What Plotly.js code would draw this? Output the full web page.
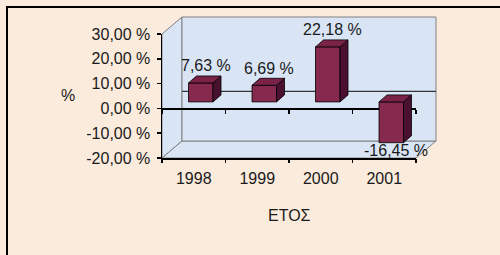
<!DOCTYPE html>
<html>
<head>
<meta charset="utf-8">
<script src="https://cdn.plot.ly/plotly-3.0.1.min.js"></script>
<style>
  html, body { margin: 0; padding: 0; background: #fbebdc; }
  #chart { width: 500px; height: 255px; }
  #frame { position: absolute; left: 6px; top: 6px; width: 494px; height: 249px;
           border-left: 2px solid #000; border-top: 2px solid #000; pointer-events: none; }
</style>
</head>
<body>
<div id="chart"></div>
<div id="frame"></div>
<script>
// ---- data ----
const years = ['1998', '1999', '2000', '2001'];
const values = [7.63, 6.69, 22.18, -16.45];
const yTicks = [-20, -10, 0, 10, 20, 30];
const xTitle = 'ΕΤΟΣ';
const yTitle = '%';

// ---- geometry (pixel layout of the fake 3D box) ----
const L = 162, R = 416, T = 34, B = 158, W = 500, H = 255;
const yMin = -20, yMax = 30;
const xMin = -0.5, xMax = years.length - 0.5;
const pxPerCat = (R - L) / years.length;
const pxPerUnit = (B - T) / (yMax - yMin);
const cx = p => p / pxPerCat;      // px -> category units
const cy = p => p / pxPerUnit;     // px -> value units
const px2x = p => (p - L) / (R - L);
const px2y = p => (B - p) / (B - T);
const d2x = x => (x - xMin) / (xMax - xMin);   // data -> paper
const d2y = y => (y - yMin) / (yMax - yMin);

const fmt = v => v.toFixed(2).replace('.', ',') + ' %';
const idx = years.map((_, i) => i);

// bar placement (middle depth)
const ox = cx(7), oy = cy(6.5), bw = cx(24.5), dx = cx(8), dy = cy(7);
// back wall offset
const bdx = 20, bdy = 17;

// top and side faces
const topX = [], topY = [], sideX = [], sideY = [];
values.forEach((v, i) => {
  const x0 = i + ox - bw / 2, x1 = i + ox + bw / 2;
  const top = Math.max(v, 0) + oy, bot = Math.min(v, 0) + oy;
  topX.push(x0, x1, x1 + dx, x0 + dx, x0, null);
  topY.push(top, top, top + dy, top + dy, top, null);
  sideX.push(x1, x1 + dx, x1 + dx, x1, x1, null);
  sideY.push(bot, bot + dy, top + dy, top, bot, null);
});

const font = { family: 'Liberation Sans, Arial', size: 16, color: '#1a1a1a' };

const labelAnn = values.map((v, i) => ({
  text: fmt(v), xref: 'paper', yref: 'paper',
  x: d2x(i + ox + cx(5)),
  y: d2y(v >= 0 ? v + oy + cy(17) : v + oy - cy(8)),
  xanchor: 'center', yanchor: 'middle', showarrow: false, font: font
}));

const traces = [
  { type: 'scatter', x: sideX, y: sideY, mode: 'lines', fill: 'toself',
    fillcolor: '#4a1030', line: { color: '#000', width: 0.8 }, hoverinfo: 'skip', showlegend: false },
  { type: 'scatter', x: topX, y: topY, mode: 'lines', fill: 'toself',
    fillcolor: '#7a2248', line: { color: '#000', width: 0.8 }, hoverinfo: 'skip', showlegend: false },
  { type: 'bar', x: idx, y: values, base: oy, width: bw, offset: ox - bw / 2,
    marker: { color: '#86294f', line: { color: '#000', width: 0.8 } }, showlegend: false }
];

const wallFill = '#d9e5f5', wallEdge = '#808080';
const P = (pts) => 'M' + pts.map(p => px2x(p[0]) + ',' + px2y(p[1])).join(' L') + ' Z';
const zeroPx = B - (0 - yMin) * pxPerUnit;
const shapes = [
  { type: 'path', xref: 'paper', yref: 'paper', layer: 'below',
    path: P([[L, T], [L + bdx, T - bdy], [L + bdx, B - bdy], [L, B]]),
    fillcolor: wallFill, line: { color: wallEdge, width: 1 } },
  { type: 'path', xref: 'paper', yref: 'paper', layer: 'below',
    path: P([[L, B], [L + bdx, B - bdy], [R + bdx, B - bdy], [R, B]]),
    fillcolor: wallFill, line: { color: wallEdge, width: 1 } },
  { type: 'path', xref: 'paper', yref: 'paper', layer: 'below',
    path: P([[L + bdx, T - bdy], [R + bdx, T - bdy], [R + bdx, B - bdy], [L + bdx, B - bdy]]),
    fillcolor: wallFill, line: { color: wallEdge, width: 1 } },
  { type: 'line', xref: 'paper', yref: 'paper', layer: 'below',
    x0: px2x(L + bdx), x1: px2x(R + bdx), y0: px2y(zeroPx - bdy), y1: px2y(zeroPx - bdy),
    line: { color: '#333', width: 1.2 } }
];

const bounds = [-0.5, 0.5, 1.5, 2.5, 3.5];

const layout = {
  width: W, height: H,
  margin: { l: L, r: W - R, t: T, b: H - B, pad: 0 },
  paper_bgcolor: '#fbebdc', plot_bgcolor: 'rgba(0,0,0,0)',
  font: font,
  barmode: 'overlay',
  xaxis: { range: [xMin, xMax], tickvals: idx, ticktext: years, ticks: '', showgrid: false,
           zeroline: false, showline: true, linecolor: '#000', linewidth: 1.5,
           tickfont: font, ticklabelstandoff: 5, fixedrange: true },
  xaxis2: { range: [xMin, xMax], overlaying: 'x', anchor: 'y', side: 'bottom', tickvals: bounds,
            showticklabels: false, ticks: 'outside', ticklen: 4, tickcolor: '#000', tickwidth: 1.5,
            showgrid: false, zeroline: false, showline: false },
  xaxis3: { range: [xMin, xMax], overlaying: 'x', anchor: 'free', position: px2y(zeroPx),
            tickvals: bounds, showticklabels: false, ticks: 'outside', ticklen: 4, tickcolor: '#000',
            tickwidth: 1.5, showgrid: false, zeroline: false, showline: true, linecolor: '#000',
            linewidth: 1.5, layer: 'below traces' },
  yaxis: { range: [yMin, yMax], tickvals: yTicks, ticktext: yTicks.map(fmt), ticks: 'outside',
           ticklen: 4, tickcolor: '#000', tickwidth: 1.5, showgrid: false, zeroline: false,
           showline: true, linecolor: '#000', linewidth: 1.5, tickfont: font,
           ticklabelstandoff: 3, fixedrange: true },
  shapes: shapes,
  annotations: [
    { text: yTitle, xref: 'paper', yref: 'paper', x: px2x(68), y: px2y(95),
      xanchor: 'center', yanchor: 'middle', showarrow: false, font: font },
    { text: xTitle, xref: 'paper', yref: 'paper', x: px2x(289), y: px2y(215),
      xanchor: 'center', yanchor: 'middle', showarrow: false, font: font }
  ].concat(labelAnn)
};

traces.push({ type: 'scatter', x: [], y: [], xaxis: 'x2', yaxis: 'y', showlegend: false, hoverinfo: 'skip' });
traces.push({ type: 'scatter', x: [], y: [], xaxis: 'x3', yaxis: 'y', showlegend: false, hoverinfo: 'skip' });

Plotly.newPlot('chart', traces, layout, { staticPlot: true, displayModeBar: false });
</script>
</body>
</html>
